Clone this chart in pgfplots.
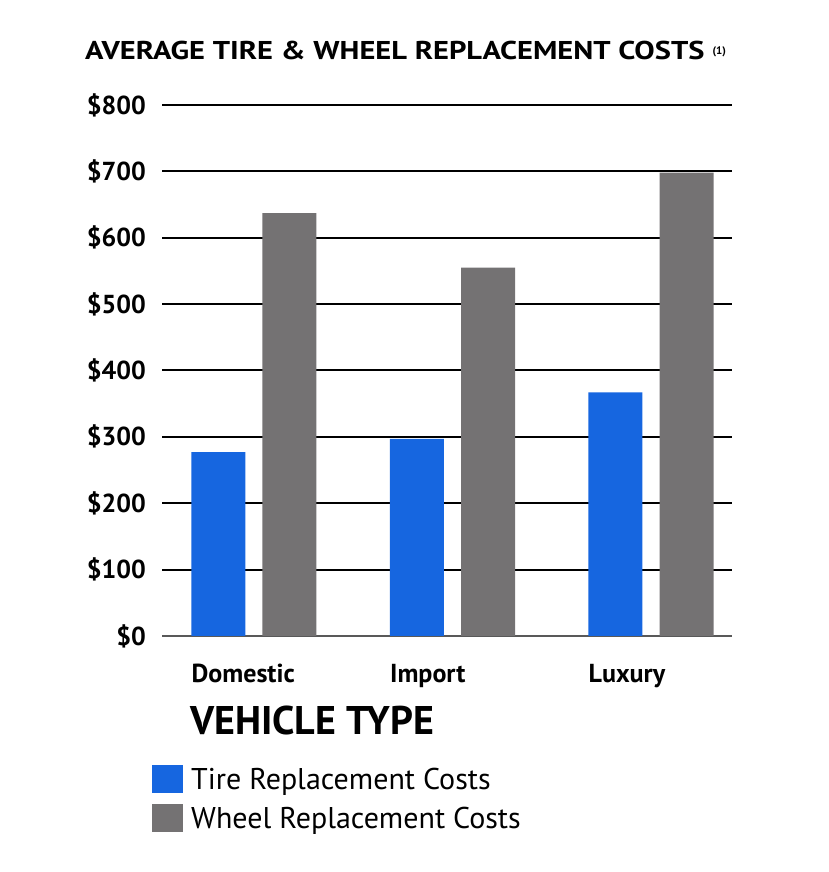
\documentclass[border=0pt]{standalone}
\usepackage{pgfplots}
\pgfplotsset{compat=1.18}
\usepackage{fontspec}
\setmainfont{PT Sans}
\definecolor{tireblue}{HTML}{1666E0}
\definecolor{wheelgray}{HTML}{747273}
\begin{document}
\begin{tikzpicture}[x=1pt,y=1pt]
\path[use as bounding box] (0,0) rectangle (828,872);
\node[anchor=base west, inner sep=0pt] at (85,812) {\scalebox{1.22}[1.03]{\fontsize{25}{28}\selectfont\bfseries AVERAGE TIRE \& WHEEL REPLACEMENT COSTS}\hspace{8pt}\raisebox{1.0ex}{\fontsize{11}{11}\selectfont\bfseries(1)}};
\node[anchor=base west, inner sep=0pt] at (190,137) {\fontsize{40}{44}\selectfont\bfseries VEHICLE TYPE};
\begin{axis}[
  scale only axis,
  width=570pt, height=531pt,
  at={(162pt,236pt)}, anchor=south west,
  xmin=-0.463, xmax=2.408,
  ymin=0, ymax=800,
  axis line style={draw=none},
  ybar,
  bar width=0.272,
  ytick={100,200,300,400,500,600,700,800},
  yticklabels={\$100,\$200,\$300,\$400,\$500,\$600,\$700,\$800},
  extra y ticks={0},
  extra y tick labels={\$0},
  extra y tick style={grid style={color=black!65, line width=2pt}},
  ymajorgrids,
  grid style={black, line width=2pt},
  major tick length=0pt,
  yticklabel style={font=\fontsize{26}{28}\selectfont\bfseries, anchor=east, inner sep=0pt, xshift=-16pt},
  xtick={-0.315,0.685,1.685},
  xticklabels={Domestic,Import,Luxury},
  xticklabel style={font=\fontsize{26}{28}\selectfont\bfseries, anchor=base west, inner sep=0pt, yshift=-46pt},
  legend style={at={(-0.0175,-0.243)}, anchor=north west, draw=none, fill=none, inner sep=0pt,
    font=\fontsize{30}{32}\selectfont, row sep=11pt, cells={anchor=west}},
  legend image code/.code={\fill[#1] (0pt,-14pt) rectangle (31pt,14pt); \path (37pt,0pt);},
]
\addplot[fill=tireblue, draw=none, bar shift=-0.179] coordinates {(0,277) (1,297) (2,367)};
\addplot[fill=wheelgray, draw=none, bar shift=0.179] coordinates {(0,637) (1,555) (2,698)};
\legend{Tire Replacement Costs, Wheel Replacement Costs}
\end{axis}
\end{tikzpicture}
\end{document}
